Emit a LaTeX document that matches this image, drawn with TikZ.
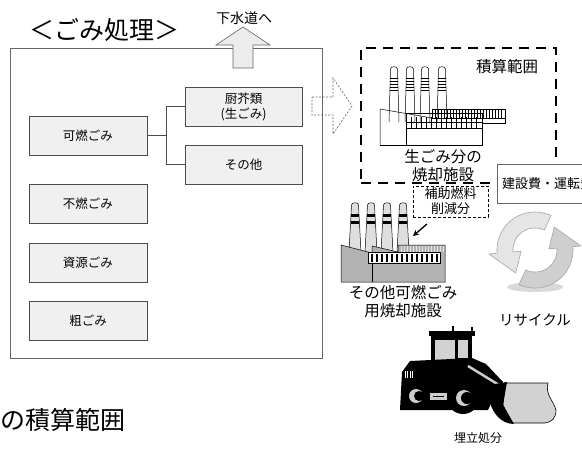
\documentclass[tikz,border=0pt]{standalone}
\usepackage{fontspec}
\setmainfont{Noto Sans CJK JP}
\usetikzlibrary{arrows.meta}

\begin{document}
\begin{tikzpicture}[x=1pt,y=-1pt,
  wastebox/.style={draw=black!70, line width=0.7pt, fill=gray!12, minimum width=118pt,
    minimum height=39pt, inner sep=0pt, align=center, font=\fontsize{12.5}{15}\selectfont},
  framebox/.style={draw=black!60, line width=0.8pt, minimum width=312pt, minimum height=310pt, inner sep=0pt},
  rangebox/.style={draw=black, line width=1.8pt, dash pattern=on 10pt off 7pt,
    minimum width=195pt, minimum height=135pt, inner sep=0pt},
  subbox/.style={draw=black, line width=0.6pt, dash pattern=on 3pt off 2pt, fill=white,
    minimum width=75pt, minimum height=31pt, inner sep=0pt, align=center, font=\fontsize{13}{15}\selectfont},
  label/.style={inner sep=0pt, font=\fontsize{15.5}{18}\selectfont, align=center},
  thin/.style={line width=0.4pt},
]
\clip (0,0) rectangle (582,448);
\fill[white] (0,0) rectangle (582,448);

% ---- waste processing frame ----
\node[framebox] (frame) at (166,203) {};
\node[inner sep=0pt, font=\fontsize{25}{28}\selectfont] (title) at (105,30) {＜ごみ処理＞};

% discharge to sewer
\draw[draw=black!60, fill=gray!15, line width=0.6pt]
  (233,68) -- (233,45) -- (216,45) -- (243,27) -- (270,45) -- (253,45) -- (253,68) -- cycle;
\node[inner sep=0pt, font=\fontsize{14}{16}\selectfont] (sewer) at (244,18) {下水道へ};

% waste categories
\node[wastebox] (kanen)  at (88,135.5) {可燃ごみ};
\node[wastebox] (funen)  at (88,203.5) {不燃ごみ};
\node[wastebox] (shigen) at (88,262.5) {資源ごみ};
\node[wastebox] (sodai)  at (88,320.5) {粗ごみ};
\node[wastebox, minimum width=117pt] (chukai) at (243.5,106.5) {厨芥類\\(生ごみ)};
\node[wastebox, minimum width=117pt] (sonota) at (243.5,164.5) {その他};

\draw[draw=black!70, line width=0.7pt] (kanen.east) -- ++(19,0) |- (chukai.west);
\draw[draw=black!70, line width=0.7pt] (kanen.east) -- ++(19,0) |- (sonota.west);

% hollow dashed arrow to the incinerator
\draw[draw=black!60, line width=0.6pt, dash pattern=on 2pt off 1.5pt]
  (312,97) -- (333,97) -- (333,78) -- (352,106) -- (333,134) -- (333,115) -- (312,115) -- cycle;

% ---- accounting range ----
\node[rangebox] (range) at (458.5,115.5) {};
\node[inner sep=0pt, font=\fontsize{15.5}{18}\selectfont] (rangelbl) at (507,67) {積算範囲};

% outlined incinerator (kitchen waste share)
\foreach \cx in {394,410,425,442} {
  \draw[line width=0.5pt, fill=white] (\cx-5,122) -- (\cx-3.5,69)
    .. controls (\cx-3.5,66) and (\cx+3.5,66) .. (\cx+3.5,69) -- (\cx+5,122);
  \foreach \yy in {78,81,84,87,90} \draw[thin] (\cx-3.9,\yy) -- (\cx+3.9,\yy);
}
\draw[line width=0.5pt] (380,145) -- (380,109) -- (432,118);
\draw[line width=0.5pt] (432,109) rectangle (505,118);
\foreach \hx in {435,438,...,503} \draw[thin] (\hx,109) -- (\hx,118);
\draw[line width=0.5pt] (482,118) -- (482,123) -- (505,123) -- (505,118);
\draw[line width=0.5pt] (406,113.5) rectangle (482,128);
\foreach \hx in {411,416,...,480} \draw[thin] (\hx,117) -- (\hx,128);
\draw[thin] (406,122) -- (482,122);
\draw[line width=0.5pt] (406,128) rectangle (482,145);
\draw[line width=0.5pt] (380,145) -- (406,145);

\node[label] (plant1) at (443,166) {生ごみ分の\\焼却施設};

% construction / operating cost box
\draw[draw=black!60, fill=white, line width=0.7pt] (600,164) -- (497,164) -- (497,203) -- (600,203);
\node[anchor=west, inner sep=0pt, font=\fontsize{13}{15}\selectfont] (cost) at (502,183.5) {建設費・運転費};

% auxiliary fuel reduction
\node[subbox] (fuel) at (450.5,201.5) {補助燃料\\削減分};
\coordinate (fuelarrowA) at (427,224);
\coordinate (fuelarrowB) at (413,236);
\draw[-{Stealth[length=6pt,width=6pt]}, line width=1.3pt] (fuelarrowA) -- (fuelarrowB);

% shaded incinerator (other combustible waste)
\foreach \cx in {355,371,387,403} {
  \draw[line width=0.5pt, fill=gray!25] (\cx-6,252) -- (\cx-3.5,205)
    .. controls (\cx-3.5,202) and (\cx+3.5,202) .. (\cx+3.5,205) -- (\cx+6,252);
  \fill (\cx-4,214) rectangle (\cx+4,217);
  \fill (\cx-4.2,221) rectangle (\cx+4.2,224);
}
\draw[line width=0.5pt, fill=gray!60]
  (341,282) -- (341,245) -- (372,253) -- (372,246) -- (398,252) -- (398,245)
  -- (445,245) -- (445,282) -- cycle;
\foreach \hx in {401,404,...,443} \draw[thin, draw=gray!20] (\hx,246) -- (\hx,252);
\draw[line width=0.5pt, fill=white] (368,252) rectangle (440,263);
\foreach \hx in {371,376,...,438} \fill (\hx,253.5) rectangle (\hx+2.2,261.5);
\draw[line width=0.5pt] (372,263) -- (372,282);
\node[label] (plant2) at (403,301.5) {その他可燃ごみ\\用焼却施設};

% ---- recycling ----
\fill[gray!30] (535,287) ellipse [x radius=28pt, y radius=5pt];
\begin{scope}[shift={(535,250)}]
  \draw[draw=gray!70, fill=gray!20, line width=0.6pt]
    plot[domain=-65:-185, samples=40] (\x:38) -- (-185:46) -- (-230:30) -- (-185:14)
    -- plot[domain=-185:-65, samples=40] (\x:22) -- cycle;
  \draw[draw=gray!70, fill=gray!38, line width=0.6pt]
    plot[domain=-245:-365, samples=40] (\x:38) -- (-365:46) -- (-410:30) -- (-365:14)
    -- plot[domain=-365:-245, samples=40] (\x:22) -- cycle;
\end{scope}
\node[inner sep=0pt, font=\fontsize{14.5}{17}\selectfont] (recycle) at (535,320) {リサイクル};

% ---- landfill (wheel loader) ----
\fill (429,331) rectangle (475,336);
\draw[line width=1.2pt] (453,326) -- (453,332);
\draw[line width=1.2pt] (472,327) -- (472,332);
\fill (431,334) rectangle (472,364);
\fill[gray!35] (435,340) rectangle (455,360);
\fill[gray!35] (458,340) rectangle (468,358);
\fill (402,372) -- (410,361) -- (472,358) -- (486,364) -- (503,382) -- (496,393)
  -- (488,410) -- (400,410) -- cycle;
\draw[gray!40, line width=2.5pt] (468,366) -- (499,385);
\foreach \gx in {405,407.5,410,412.5} \draw[white, line width=1pt] (\gx,371) -- (\gx,378);
\fill[black] (415,396) circle (14pt);
\fill[gray!40] (416,396) circle (7pt);
\fill[black] (419,396) circle (5pt);
\fill[black] (463,398) circle (16pt);
\fill[gray!40] (464,398) circle (8pt);
\fill[black] (467,398) circle (6pt);
\fill[gray!40] (430,393) rectangle (447,400);
\draw[line width=0.8pt] (433,396.5) -- (444,396.5);
\draw[line width=0.6pt, fill=gray!35] (505,383) -- (548,383)
  .. controls (545,394) and (553,400) .. (556,410)
  .. controls (556,418) and (552,422) .. (545,423) -- (512,423) -- (503,405) -- cycle;
\fill (495,384) -- (507,382) -- (503,405) -- (514,424)
  .. controls (500,424) and (491,411) .. (489,398) -- cycle;
\node[inner sep=0pt, font=\fontsize{12}{14}\selectfont] (landfill) at (478,438) {埋立処分};

% ---- caption ----
\node[anchor=west, inner sep=0pt, font=\fontsize{25}{28}\selectfont] (caption) at (0,420) {の積算範囲};
\end{tikzpicture}
\end{document}
